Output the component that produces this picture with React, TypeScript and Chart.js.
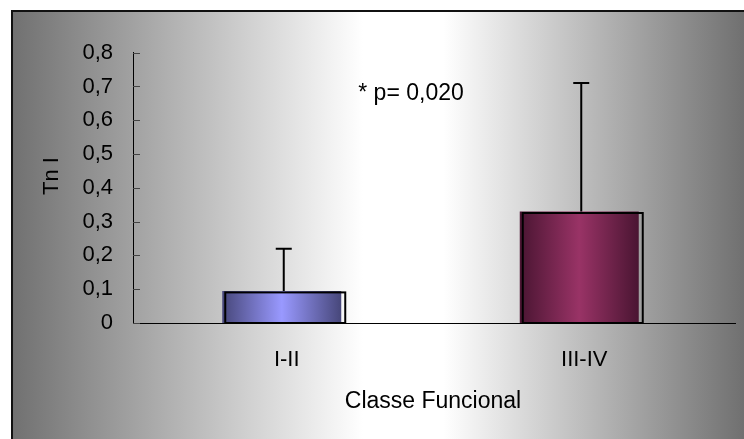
import React, { useEffect, useRef } from 'react';
import { Chart, registerables } from 'chart.js';

Chart.register(...registerables);

// ---- data ----
const categories: string[] = ['I-II', 'III-IV'];
const means: number[] = [0.095, 0.33];
const sdUpper: number[] = [0.125, 0.38];
const yMin = 0;
const yMax = 0.8;
const yStep = 0.1;
const annotationText = '* p= 0,020';
const yTitle = 'Tn I';
const xTitle = 'Classe Funcional';

// ---- styles ----
const FONT = "'Liberation Sans', Arial, sans-serif";
const barGradients = [
  { edge: '#47477a', center: '#9999ff' },
  { edge: '#4a1532', center: '#993366' },
];

const fmt = (v: number) => (Math.abs(v) < 1e-9 ? '0' : Number(v).toFixed(1).replace('.', ','));

const bgPlugin = {
  id: 'bgFrame',
  beforeDraw(chart: any) {
    const { ctx, width, height } = chart;
    ctx.save();
    ctx.fillStyle = '#ffffff';
    ctx.fillRect(0, 0, width, height);
    const x0 = 11, y0 = 10;
    const g = ctx.createLinearGradient(x0, 0, width, 0);
    g.addColorStop(0, '#707070');
    g.addColorStop(0.48, '#ffffff');
    g.addColorStop(0.59, '#ffffff');
    g.addColorStop(1, '#707070');
    ctx.fillStyle = g;
    ctx.fillRect(x0, y0, width - x0, height - y0);
    ctx.strokeStyle = '#111';
    ctx.lineWidth = 2;
    ctx.beginPath();
    ctx.moveTo(x0 + 1, height);
    ctx.lineTo(x0 + 1, y0 + 1);
    ctx.lineTo(width, y0 + 1);
    ctx.stroke();
    ctx.restore();
  },
};

const overlayPlugin = {
  id: 'overlay',
  afterDatasetsDraw(chart: any) {
    const { ctx, chartArea } = chart;
    const yScale = chart.scales.y;
    const meta = chart.getDatasetMeta(0);
    ctx.save();
    // x axis line extension
    ctx.strokeStyle = '#000';
    ctx.lineWidth = 1;
    const by = Math.round(chartArea.bottom) + 0.5;
    ctx.beginPath();
    ctx.moveTo(chartArea.right - 1, by);
    ctx.lineTo(chartArea.right + 8, by);
    ctx.stroke();
    // inward ticks on y axis
    ctx.strokeStyle = '#444';
    yScale.ticks.forEach((t: any) => {
      const py = Math.round(yScale.getPixelForValue(t.value)) + 0.5;
      ctx.beginPath();
      ctx.moveTo(yScale.right, py);
      ctx.lineTo(yScale.right + 7, py);
      ctx.stroke();
    });
    meta.data.forEach((bar: any, i: number) => {
      const { x, y, base, width } = bar.getProps(['x', 'y', 'base', 'width'], true);
      // offset outline
      ctx.strokeStyle = '#000';
      ctx.lineWidth = 2;
      ctx.strokeRect(x - width / 2 + 3, y + 1.5, width + 1, base - y - 1.5);
      // error bar (upper only)
      const ex = x + 2;
      const top = yScale.getPixelForValue(means[i] + sdUpper[i]);
      ctx.beginPath();
      ctx.moveTo(ex, y);
      ctx.lineTo(ex, top);
      ctx.moveTo(ex - 8, top);
      ctx.lineTo(ex + 8, top);
      ctx.stroke();
    });
    ctx.restore();
  },
  afterDraw(chart: any) {
    const { ctx } = chart;
    ctx.save();
    ctx.fillStyle = '#000';
    ctx.textAlign = 'center';
    ctx.textBaseline = 'middle';
    ctx.font = `23px ${FONT}`;
    ctx.fillText(xTitle, 433, 402);
    ctx.fillText(annotationText, 411, 94);
    ctx.font = `22px ${FONT}`;
    ctx.translate(52, 176);
    ctx.rotate(-Math.PI / 2);
    ctx.fillText(yTitle, 0, 0);
    ctx.restore();
  },
};

export default function App() {
  const ref = useRef<HTMLCanvasElement>(null);
  useEffect(() => {
    if (!ref.current) return;
    const chart = new Chart(ref.current, {
      type: 'bar',
      data: {
        labels: categories,
        datasets: [
          {
            data: means,
            backgroundColor: (c: any) => {
              const i = c.dataIndex ?? 0;
              const col = barGradients[i % barGradients.length];
              const xs = c.chart.scales?.x;
              if (!xs || c.type !== 'data' || !xs.width) return col.center;
              const cx = xs.getPixelForValue(i);
              const w = (xs.width / categories.length) * 0.4;
              const g = c.chart.ctx.createLinearGradient(cx - w / 2, 0, cx + w / 2, 0);
              g.addColorStop(0, col.edge);
              g.addColorStop(0.5, col.center);
              g.addColorStop(1, col.edge);
              return g;
            },
            borderWidth: 0,
            categoryPercentage: 1,
            barPercentage: 0.4,
          },
        ],
      },
      options: {
        responsive: false,
        animation: false,
        layout: { padding: { top: 52.7, right: 16, bottom: 0, left: 0 } },
        plugins: { legend: { display: false }, tooltip: { enabled: false } },
        scales: {
          x: {
            grid: { display: false, drawTicks: false },
            border: { display: true, color: '#000', width: 1 },
            ticks: { color: '#000', font: { family: FONT, size: 22 }, padding: 24, labelOffset: 5 },
            afterFit: (s: any) => {
              s.height = 116;
            },
          },
          y: {
            min: yMin,
            max: yMax,
            grid: { display: false, drawTicks: false },
            border: { display: true, color: '#000', width: 1 },
            ticks: {
              stepSize: yStep,
              color: '#000',
              font: { family: FONT, size: 22 },
              padding: 20,
              callback: (v: any) => fmt(Number(v)),
            },
            afterFit: (s: any) => {
              s.width = 133;
            },
          },
        },
      },
      plugins: [bgPlugin, overlayPlugin],
    });
    return () => chart.destroy();
  }, []);
  return (
    <div style={{ position: 'absolute', left: 0, top: 0, width: 744, height: 439 }}>
      <canvas ref={ref} width={744} height={439} style={{ display: 'block' }} />
    </div>
  );
}
